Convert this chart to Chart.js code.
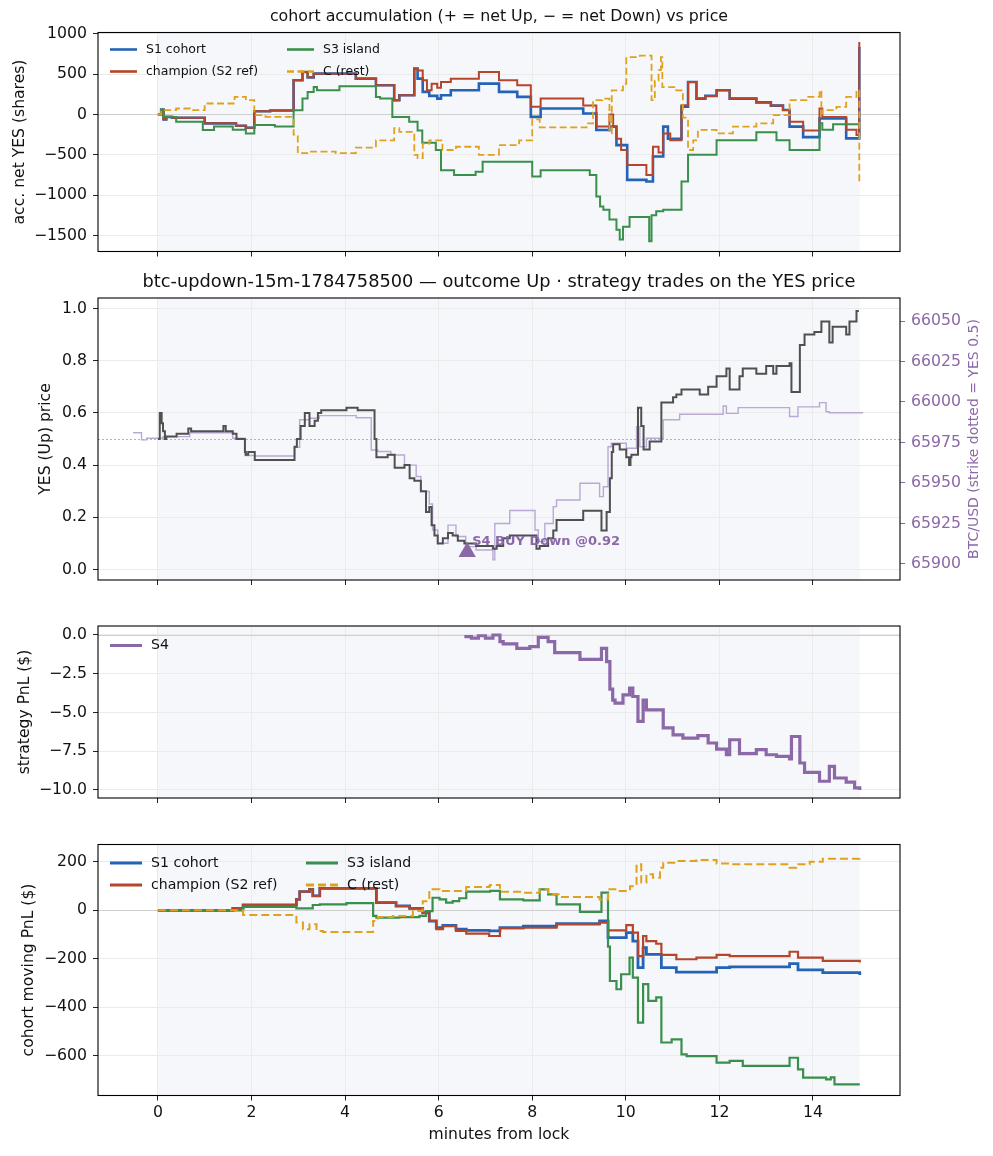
<!DOCTYPE html>
<html>
<head>
<meta charset="utf-8">
<script src="https://cdn.jsdelivr.net/npm/chart.js@4.4.1/dist/chart.umd.min.js"></script>
<style>
  html, body { margin: 0; padding: 0; background: #fff; }
  #wrap { position: relative; width: 993px; height: 1156px; }
  canvas { position: absolute; left: 0; }
</style>
</head>
<body>
<div id="wrap">
  <canvas id="acc" width="993" height="270" style="top:0px"></canvas>
  <canvas id="price" width="993" height="330" style="top:270px"></canvas>
  <canvas id="strat" width="993" height="218" style="top:600px"></canvas>
  <canvas id="cohort" width="993" height="338" style="top:818px"></canvas>
</div>
<script>
// ---- data (minutes from lock) ----
const minuteTicks = [0, 2, 4, 6, 8, 10, 12, 14];
const shadeSpan = [0, 15];

// panel 1: accumulated net YES shares
const accTicks = [-1500, -1000, -500, 0, 500, 1000];
const accS1T = [0, 0.07, 0.12, 0.18, 0.3, 1.0, 1.67, 1.88, 2.06, 2.4, 2.9, 3.09, 3.2, 3.33, 4.23, 4.66, 5.05, 5.16, 5.48, 5.55, 5.66, 5.8, 5.97, 6.05, 6.26, 6.86, 7.29, 7.68, 7.97, 8.18, 9.09, 9.37, 9.65, 9.8, 10.03, 10.44, 10.58, 10.8, 10.9, 11.19, 11.33, 11.51, 11.7, 11.94, 12.22, 12.79, 13.1, 13.36, 13.5, 13.79, 14.14, 14.71, 14.99];
const accS1V = [0, 60, -60, -30, -40, -110, -140, -165, 40, 50, 424, 527, 460, 506, 444, 362, 177, 239, 568, 445, 280, 230, 197, 239, 300, 383, 280, 218, -30, 74, 12, -193, -150, -380, -810, -830, -520, -150, -300, 95, 403, 197, 230, 300, 197, 150, 110, 55, -150, -280, -50, -296, 835];
const accChampT = [0, 0.07, 0.12, 0.18, 0.3, 1.0, 1.67, 1.88, 2.06, 2.4, 2.9, 3.09, 3.2, 3.33, 4.23, 4.66, 5.05, 5.16, 5.48, 5.55, 5.66, 5.75, 5.85, 5.97, 6.05, 6.26, 6.86, 7.29, 7.68, 7.97, 8.18, 9.09, 9.37, 9.65, 9.73, 9.8, 9.9, 10.03, 10.44, 10.58, 10.7, 10.8, 10.95, 11.19, 11.33, 11.51, 11.7, 11.94, 12.22, 12.79, 13.1, 13.36, 13.5, 13.79, 14.14, 14.2, 14.71, 14.93, 14.99];
const accChampV = [0, 60, -60, -30, -40, -110, -140, -165, 40, 50, 424, 527, 460, 506, 444, 362, 177, 239, 568, 545, 424, 300, 380, 330, 403, 444, 527, 424, 362, 95, 197, 110, -150, 0, -150, -300, -440, -625, -750, -400, -470, -235, -320, 115, 403, 197, 230, 300, 197, 150, 110, 55, -90, -200, 75, -30, -190, -255, 897];
const accS3T = [0, 0.07, 0.12, 0.39, 0.96, 1.2, 1.6, 1.88, 2.06, 2.5, 2.9, 3.09, 3.2, 3.33, 3.4, 3.88, 4.66, 4.75, 5.01, 5.37, 5.55, 5.65, 5.94, 6.05, 6.33, 6.79, 6.94, 8.0, 8.18, 9.23, 9.37, 9.45, 9.52, 9.65, 9.8, 9.87, 9.94, 10.08, 10.5, 10.55, 10.65, 10.8, 11.19, 11.33, 11.94, 12.79, 13.22, 13.5, 14.14, 14.2, 14.43, 14.99];
const accS3V = [0, 60, -30, -90, -193, -150, -190, -235, -130, -150, 53, 197, 280, 340, 300, 350, 218, 197, -30, -90, -200, -350, -440, -690, -750, -710, -585, -770, -690, -750, -1015, -1140, -1180, -1300, -1430, -1550, -1390, -1270, -1570, -1250, -1200, -1180, -830, -500, -320, -220, -320, -440, -110, -190, -120, -120];
const accRestT = [0, 0.07, 0.39, 0.68, 1.0, 1.64, 1.88, 2.06, 2.3, 2.9, 2.99, 3.24, 3.8, 4.23, 4.66, 5.05, 5.16, 5.48, 5.55, 5.66, 5.8, 6.08, 6.37, 6.86, 7.29, 7.72, 8.0, 8.16, 9.16, 9.3, 9.5, 9.65, 9.7, 9.94, 10.01, 10.3, 10.55, 10.62, 10.7, 10.75, 10.78, 11.08, 11.22, 11.33, 11.44, 11.54, 11.94, 12.29, 12.79, 13.15, 13.5, 13.86, 14.14, 14.18, 14.2, 14.5, 14.71, 14.93, 14.99];
const accRestV = [0, 53, 74, 53, 136, 218, 177, -8, -30, -250, -480, -460, -480, -410, -320, -170, -215, -500, -540, -360, -320, -440, -400, -500, -380, -320, -60, -160, -110, 177, 197, -235, 300, 380, 710, 730, 177, 420, 550, 710, 340, 300, -40, -440, -320, -190, -235, -150, -110, -8, 177, 218, 300, 12, 53, 95, 218, 300, -830];

// panel 2: YES price and BTC/USD
const yesTicks = [0, 0.2, 0.4, 0.6, 0.8, 1.0];
const btcTicks = [65900, 65925, 65950, 65975, 66000, 66025, 66050];
const strikeYes = 0.5;
const yesT = [0, 0.04, 0.08, 0.11, 0.15, 0.18, 0.4, 0.65, 0.71, 1.4, 1.45, 1.6, 1.68, 1.86, 1.88, 1.93, 2.07, 2.92, 2.97, 3.05, 3.14, 3.24, 3.35, 3.42, 3.49, 4.03, 4.27, 4.63, 4.67, 4.91, 5.06, 5.27, 5.38, 5.48, 5.62, 5.73, 5.8, 5.85, 5.91, 5.98, 6.09, 6.2, 6.3, 6.41, 6.55, 6.8, 7.16, 7.24, 7.38, 7.52, 8.09, 8.16, 8.34, 8.45, 8.52, 9.09, 9.48, 9.59, 9.66, 9.7, 9.73, 9.87, 10.01, 10.07, 10.1, 10.12, 10.26, 10.33, 10.38, 10.51, 10.76, 11.01, 11.08, 11.19, 11.58, 11.76, 11.94, 12.15, 12.22, 12.43, 12.5, 12.79, 13.0, 13.15, 13.22, 13.5, 13.54, 13.72, 13.82, 14.03, 14.18, 14.35, 14.42, 14.71, 14.78, 14.93, 14.98];
const yesV = [0.50, 0.60, 0.56, 0.53, 0.50, 0.51, 0.52, 0.54, 0.53, 0.55, 0.53, 0.52, 0.50, 0.45, 0.44, 0.45, 0.42, 0.47, 0.50, 0.55, 0.60, 0.55, 0.57, 0.60, 0.61, 0.62, 0.61, 0.50, 0.43, 0.44, 0.39, 0.40, 0.35, 0.34, 0.30, 0.22, 0.24, 0.17, 0.13, 0.10, 0.12, 0.14, 0.13, 0.11, 0.10, 0.09, 0.08, 0.09, 0.12, 0.13, 0.08, 0.09, 0.12, 0.15, 0.19, 0.225, 0.15, 0.22, 0.35, 0.45, 0.48, 0.46, 0.43, 0.40, 0.43, 0.44, 0.62, 0.55, 0.46, 0.49, 0.64, 0.66, 0.67, 0.69, 0.67, 0.70, 0.74, 0.77, 0.69, 0.74, 0.77, 0.75, 0.78, 0.75, 0.78, 0.79, 0.68, 0.86, 0.90, 0.91, 0.95, 0.87, 0.93, 0.90, 0.95, 0.99, 0.99];
const btcT = [-0.53, -0.35, -0.24, 0.11, 0.68, 1.6, 1.86, 2.07, 2.92, 3.03, 3.24, 3.45, 4.24, 4.56, 4.7, 4.98, 5.27, 5.52, 5.62, 5.8, 5.87, 5.98, 6.2, 6.37, 6.58, 6.8, 7.16, 7.2, 7.52, 8.06, 8.13, 8.27, 8.45, 8.52, 9.02, 9.44, 9.52, 9.62, 9.69, 10.01, 10.23, 10.3, 10.44, 10.8, 11.15, 12.08, 12.15, 12.4, 13.5, 13.68, 14.14, 14.28, 14.35, 15.07];
const btcV = [65981, 65976.6, 65977.6, 65978.6, 65981, 65977.6, 65967, 65966.7, 65972, 65989, 65990, 65991.6, 65990.3, 65970.4, 65969.4, 65967.3, 65961, 65954, 65944.7, 65937, 65921, 65912.8, 65924, 65917, 65910.7, 65908.6, 65902.5, 65925, 65933, 65921, 65913.8, 65925, 65935.4, 65939.5, 65949.8, 65941.6, 65947.7, 65972.4, 65974.5, 65971.4, 65984.8, 65972.4, 65977.6, 65989, 65992.4, 65997.5, 65993, 65996.5, 65991, 65997, 65999.6, 65994, 65993.4, 65993.4];
const tradeT = [6.61];
const tradeYes = [0.067];
const tradeLabels = ['S4 BUY Down @0.92'];

// panel 3: S4 strategy PnL
const stratTicks = [-10, -7.5, -5, -2.5, 0];
const s4T = [6.55, 6.7, 6.85, 7.0, 7.16, 7.31, 7.38, 7.67, 7.95, 8.13, 8.34, 8.48, 9.02, 9.48, 9.59, 9.66, 9.72, 9.77, 9.94, 10.08, 10.15, 10.26, 10.37, 10.44, 10.8, 11.01, 11.22, 11.54, 11.76, 11.94, 12.15, 12.22, 12.43, 12.79, 13.0, 13.22, 13.5, 13.54, 13.72, 13.82, 14.14, 14.35, 14.46, 14.71, 14.89, 15.0];
const s4V = [-0.1, -0.2, -0.05, -0.2, 0.0, -0.43, -0.58, -0.86, -0.75, -0.15, -0.43, -1.14, -1.57, -0.86, -1.72, -3.5, -4.2, -4.4, -3.86, -3.43, -3.97, -5.58, -4.2, -4.83, -6.0, -6.44, -6.65, -6.5, -6.97, -7.36, -7.73, -6.76, -7.66, -7.4, -7.73, -7.83, -8.0, -6.55, -8.26, -8.86, -9.44, -8.48, -9.23, -9.5, -9.87, -10.0];

// panel 4: cohort moving PnL
const cohortTicks = [-600, -400, -200, 0, 200];
const pnlS1T = [0, 1.6, 1.82, 2.96, 3.03, 3.24, 3.31, 3.46, 4.67, 5.09, 5.38, 5.66, 5.8, 5.95, 6.09, 6.37, 6.59, 7.08, 7.31, 7.81, 8.52, 9.44, 9.62, 10.01, 10.15, 10.26, 10.37, 10.44, 10.76, 11.08, 11.94, 12.22, 13.5, 13.68, 14.21, 15.0];
const pnlS1V = [0, 8, 22, 45, 77, 87, 60, 91, 32, 18, 8, -10, -44, -72, -62, -78, -83, -85, -72, -65, -55, -44, -113, -92, -127, -237, -154, -182, -237, -255, -237, -234, -220, -246, -257, -267];
const pnlChampT = [0, 1.6, 1.82, 2.96, 3.03, 3.24, 3.31, 3.46, 4.67, 5.09, 5.38, 5.66, 5.8, 5.95, 6.09, 6.37, 6.59, 7.08, 7.31, 7.81, 8.52, 9.44, 9.62, 10.01, 10.15, 10.26, 10.37, 10.44, 10.65, 10.76, 11.08, 11.51, 11.94, 12.22, 13.5, 13.68, 14.21, 15.0];
const pnlChampV = [0, 8, 22, 45, 77, 87, 60, 91, 32, 18, 8, -10, -44, -78, -65, -85, -96, -106, -74, -72, -58, -51, -83, -61, -92, -189, -106, -127, -138, -184, -202, -195, -184, -189, -171, -195, -209, -216];
const pnlS3T = [0, 1.82, 2.96, 3.31, 3.46, 4.03, 4.6, 4.67, 5.16, 5.59, 5.73, 5.87, 6.02, 6.16, 6.3, 6.44, 6.59, 7.1, 7.31, 7.81, 8.16, 8.34, 8.52, 9.02, 9.48, 9.62, 9.66, 9.8, 9.9, 10.08, 10.15, 10.26, 10.37, 10.48, 10.65, 10.76, 10.98, 11.19, 11.3, 11.94, 12.22, 12.5, 13.5, 13.68, 13.79, 14.28, 14.38, 14.46, 15.0];
const pnlS3V = [0, 14, 8, 22, 25, 30, -23, -30, -28, -23, -3, 52, 45, 32, 38, 50, 77, 80, 45, 41, 87, 66, 25, -6, 73, -150, -292, -326, -264, -195, -278, -464, -305, -374, -360, -546, -533, -595, -602, -629, -622, -643, -609, -657, -691, -698, -690, -719, -719];
const pnlRestT = [0, 1.82, 2.96, 3.1, 3.24, 3.39, 3.53, 4.6, 4.7, 5.02, 5.45, 5.66, 5.8, 6.02, 6.59, 7.08, 7.1, 7.31, 7.81, 8.16, 8.34, 8.59, 9.44, 9.62, 9.8, 10.09, 10.23, 10.33, 10.44, 10.58, 10.73, 10.8, 11.08, 11.51, 11.94, 12.22, 13.5, 13.64, 13.93, 14.21, 15.0];
const pnlRestV = [0, -19, -50, -78, -58, -85, -90, -44, -28, -23, -3, 38, 87, 80, 96, 100, 105, 77, 73, 87, 66, 55, 45, 87, 80, 100, 190, 115, 149, 135, 176, 197, 204, 208, 193, 190, 176, 190, 201, 213, 220];

// ---- colours ----
const C_S1 = '#2463b5';
const C_CHAMP = '#b5452b';
const C_S3 = '#3a8f4b';
const C_REST = '#e0a21c';
const C_S4 = '#8b68a8';
const C_YES = '#505050';
const C_BTC = '#b9a9d4';
const FONT = "'DejaVu Sans', sans-serif";
const TICK_PX = 15.7;
const LABEL_PX = 15.6;

Chart.defaults.font.family = FONT;
Chart.defaults.font.size = TICK_PX;
Chart.defaults.color = '#111';

const minus = s => String(s).replace('-', '\u2212');
const pts = (t, v) => t.map((x, i) => ({ x: x, y: v[i] }));

// Chart.js paints lower "order" on top, so order is given explicitly
function line(label, t, v, color, order, extra) {
  return Object.assign({
    label: label, data: pts(t, v), borderColor: color, backgroundColor: color,
    borderWidth: 2, pointRadius: 0, stepped: true, fill: false, order: order
  }, extra || {});
}

// shading, reference lines, frame, titles and in-axes legend
const decor = {
  id: 'decor',
  beforeDraw(chart) {
    const { ctx, chartArea: a } = chart;
    const xs = chart.scales.x;
    const x0 = xs.getPixelForValue(shadeSpan[0]);
    const x1 = xs.getPixelForValue(shadeSpan[1]);
    ctx.save();
    ctx.fillStyle = '#f5f7fb';
    ctx.fillRect(x0, a.top, x1 - x0, a.bottom - a.top);
    ctx.restore();
  },
  beforeDatasetsDraw(chart, args, o) {
    if (o.hline === undefined || o.hline === null) return;
    const { ctx, chartArea: a } = chart;
    const y = Math.round(chart.scales.y.getPixelForValue(o.hline)) + 0.5;
    ctx.save();
    ctx.strokeStyle = o.hlineColor;
    ctx.lineWidth = 1;
    ctx.setLineDash(o.hlineDash ? [o.hlineDash[0], o.hlineDash[1]] : []);
    ctx.beginPath();
    ctx.moveTo(a.left, y);
    ctx.lineTo(a.right, y);
    ctx.stroke();
    ctx.restore();
  },
  afterDatasetsDraw(chart, args, o) {
    if (!o.note) return;
    const { ctx } = chart;
    const px = chart.scales.x.getPixelForValue(tradeT[0]) + o.note.dx;
    const py = chart.scales.y.getPixelForValue(tradeYes[0]) + o.note.dy;
    ctx.save();
    ctx.font = 'bold ' + o.note.size + 'px ' + FONT;
    ctx.fillStyle = C_S4;
    ctx.textBaseline = 'middle';
    ctx.fillText(tradeLabels[0], px, py);
    ctx.restore();
  },
  afterDraw(chart, args, o) {
    const { ctx, chartArea: a } = chart;
    ctx.save();
    ctx.strokeStyle = '#000';
    ctx.lineWidth = 1.1;
    ctx.strokeRect(a.left, a.top, a.right - a.left, a.bottom - a.top);
    ctx.fillStyle = '#111';
    if (o.title) {
      ctx.font = o.titleSize + 'px ' + FONT;
      ctx.textAlign = 'center';
      ctx.textBaseline = 'middle';
      ctx.fillText(o.title, (a.left + a.right) / 2, a.top - o.titleGap);
    }
    if (o.ylabel) {
      ctx.save();
      ctx.translate(o.ylabelX, (a.top + a.bottom) / 2);
      ctx.rotate(-Math.PI / 2);
      ctx.font = LABEL_PX + 'px ' + FONT;
      ctx.textAlign = 'center';
      ctx.textBaseline = 'middle';
      ctx.fillText(o.ylabel, 0, 0);
      ctx.restore();
    }
    if (o.y2label) {
      ctx.save();
      ctx.translate(o.y2labelX, (a.top + a.bottom) / 2);
      ctx.rotate(-Math.PI / 2);
      ctx.font = '14px ' + FONT;
      ctx.fillStyle = C_S4;
      ctx.textAlign = 'center';
      ctx.textBaseline = 'middle';
      ctx.fillText(o.y2label, 0, 0);
      ctx.restore();
    }
    if (o.legend) {
      const L = o.legend;
      ctx.font = L.size + 'px ' + FONT;
      ctx.textBaseline = 'middle';
      ctx.textAlign = 'left';
      for (let i = 0; i < L.slots.length; i++) {
        const s = L.slots[i];
        const ds = chart.data.datasets[s.ds];
        const x = a.left + s.dx, y = a.top + s.dy;
        ctx.strokeStyle = ds.borderColor;
        ctx.lineWidth = L.lw;
        ctx.setLineDash(ds.borderDash ? [ds.borderDash[0], ds.borderDash[1]] : []);
        ctx.beginPath();
        ctx.moveTo(x, y);
        ctx.lineTo(x + L.len, y);
        ctx.stroke();
        ctx.setLineDash([]);
        ctx.fillStyle = '#111';
        ctx.fillText(ds.label, x + L.len + L.gap, y);
      }
    }
    ctx.restore();
  }
};
Chart.register(decor);

function xScale(showLabels, height) {
  return {
    type: 'linear', min: -1.28, max: 15.86,
    afterBuildTicks: s => { s.ticks = minuteTicks.map(v => ({ value: v })); },
    afterFit: s => { s.height = height; },
    ticks: { display: showLabels, padding: 3, font: { size: TICK_PX } },
    grid: { color: '#ebebeb', tickColor: '#222', tickLength: 5 },
    border: { display: false },
    title: showLabels
      ? { display: true, text: 'minutes from lock', font: { size: LABEL_PX }, padding: { top: 0, bottom: 11.5 } }
      : { display: false }
  };
}

function yScale(min, max, ticks, fmt) {
  return {
    type: 'linear', position: 'left', min: min, max: max,
    afterBuildTicks: s => { s.ticks = ticks.map(v => ({ value: v })); },
    afterFit: s => { s.width = 98; },
    ticks: { padding: 6, font: { size: TICK_PX }, callback: v => fmt(v) },
    grid: { color: '#ebebeb', tickColor: '#222', tickLength: 5 },
    border: { display: false }
  };
}

function baseOptions(padTop, padRight, scales, decorOpts) {
  return {
    responsive: false, animation: false, events: [],
    layout: { padding: { top: padTop, right: padRight, bottom: 0, left: 0 } },
    plugins: { legend: { display: false }, tooltip: { enabled: false }, title: { display: false }, decor: decorOpts },
    scales: scales
  };
}

// ---- panel 1 ----
new Chart(document.getElementById('acc'), {
  type: 'line',
  data: {
    datasets: [
      line('S1 cohort', accS1T, accS1V, C_S1, 4, { borderWidth: 2.6 }),
      line('champion (S2 ref)', accChampT, accChampV, C_CHAMP, 3),
      line('S3 island', accS3T, accS3V, C_S3, 2),
      line('C (rest)', accRestT, accRestV, C_REST, 1, { borderWidth: 1.8, borderDash: [7, 3.5] })
    ]
  },
  options: baseOptions(32.5, 93, {
    x: xScale(false, 18.5),
    y: yScale(-1698, 1016, accTicks, v => minus(v))
  }, {
    title: 'cohort accumulation (+ = net Up, \u2212 = net Down) vs price', titleSize: 15.8, titleGap: 15.5,
    ylabel: 'acc. net YES (shares)', ylabelX: 20,
    hline: 0, hlineColor: '#cfcfcf',
    legend: {
      size: 12.5, lw: 2.6, len: 27, gap: 9,
      slots: [{ ds: 0, dx: 12, dy: 17 }, { ds: 1, dx: 12, dy: 39 }, { ds: 2, dx: 189, dy: 17 }, { ds: 3, dx: 189, dy: 39 }]
    }
  })
});

// ---- panel 2 ----
const priceScales = {
  x: xScale(false, 20),
  y: yScale(-0.04, 1.04, yesTicks, v => v.toFixed(1)),
  y2: {
    type: 'linear', position: 'right', min: 65890.1, max: 66064.2,
    afterBuildTicks: s => { s.ticks = btcTicks.map(v => ({ value: v })); },
    afterFit: s => { s.width = 93; },
    ticks: { padding: 6, color: C_S4, font: { size: TICK_PX }, callback: v => String(v) },
    grid: { drawOnChartArea: false, tickColor: C_S4, tickLength: 5 },
    border: { display: false }
  }
};
new Chart(document.getElementById('price'), {
  type: 'line',
  data: {
    datasets: [
      line('BTC/USD', btcT, btcV, C_BTC, 3, { yAxisID: 'y2', borderWidth: 1.4 }),
      line('YES price', yesT, yesV, C_YES, 2, { yAxisID: 'y', borderWidth: 2 }),
      {
        label: 'S4 trade', data: pts(tradeT, tradeYes), yAxisID: 'y', showLine: false, order: 1,
        pointStyle: 'triangle', pointRadius: 10, pointBackgroundColor: C_S4,
        pointBorderWidth: 0, borderColor: C_S4
      }
    ]
  },
  options: baseOptions(28, 0, priceScales, {
    title: 'btc-updown-15m-1784758500 \u2014 outcome Up \u00b7 strategy trades on the YES price', titleSize: 17.8, titleGap: 15.5,
    ylabel: 'YES (Up) price', ylabelX: 45.5,
    y2label: 'BTC/USD (strike dotted = YES 0.5)', y2labelX: 974,
    hline: strikeYes, hlineColor: C_BTC, hlineDash: [2, 2],
    note: { dx: 5, dy: -10, size: 13 }
  })
});

// ---- panel 3 ----
new Chart(document.getElementById('strat'), {
  type: 'line',
  data: { datasets: [line('S4', s4T, s4V, C_S4, 1, { borderWidth: 3.2 })] },
  options: baseOptions(26, 93, {
    x: xScale(false, 20),
    y: yScale(-10.52, 0.58, stratTicks, v => minus(v.toFixed(1)))
  }, {
    ylabel: 'strategy PnL ($)', ylabelX: 25,
    hline: 0, hlineColor: '#cfcfcf',
    legend: { size: 14.1, lw: 3, len: 32, gap: 9, slots: [{ ds: 0, dx: 12, dy: 19.5 }] }
  })
});

// ---- panel 4 ----
new Chart(document.getElementById('cohort'), {
  type: 'line',
  data: {
    datasets: [
      line('S1 cohort', pnlS1T, pnlS1V, C_S1, 4, { borderWidth: 2.8 }),
      line('champion (S2 ref)', pnlChampT, pnlChampV, C_CHAMP, 3, { borderWidth: 2.2 }),
      line('S3 island', pnlS3T, pnlS3V, C_S3, 2, { borderWidth: 2.2 }),
      line('C (rest)', pnlRestT, pnlRestV, C_REST, 1, { borderWidth: 2, borderDash: [8, 4] })
    ]
  },
  options: baseOptions(26.5, 93, {
    x: xScale(true, 60.5),
    y: yScale(-765, 272, cohortTicks, v => minus(v))
  }, {
    ylabel: 'cohort moving PnL ($)', ylabelX: 29,
    hline: 0, hlineColor: '#cfcfcf',
    legend: {
      size: 14.1, lw: 3, len: 32, gap: 9,
      slots: [{ ds: 0, dx: 12, dy: 18.5 }, { ds: 1, dx: 12, dy: 40.5 }, { ds: 2, dx: 208, dy: 18.5 }, { ds: 3, dx: 208, dy: 40.5 }]
    }
  })
});
</script>
</body>
</html>
